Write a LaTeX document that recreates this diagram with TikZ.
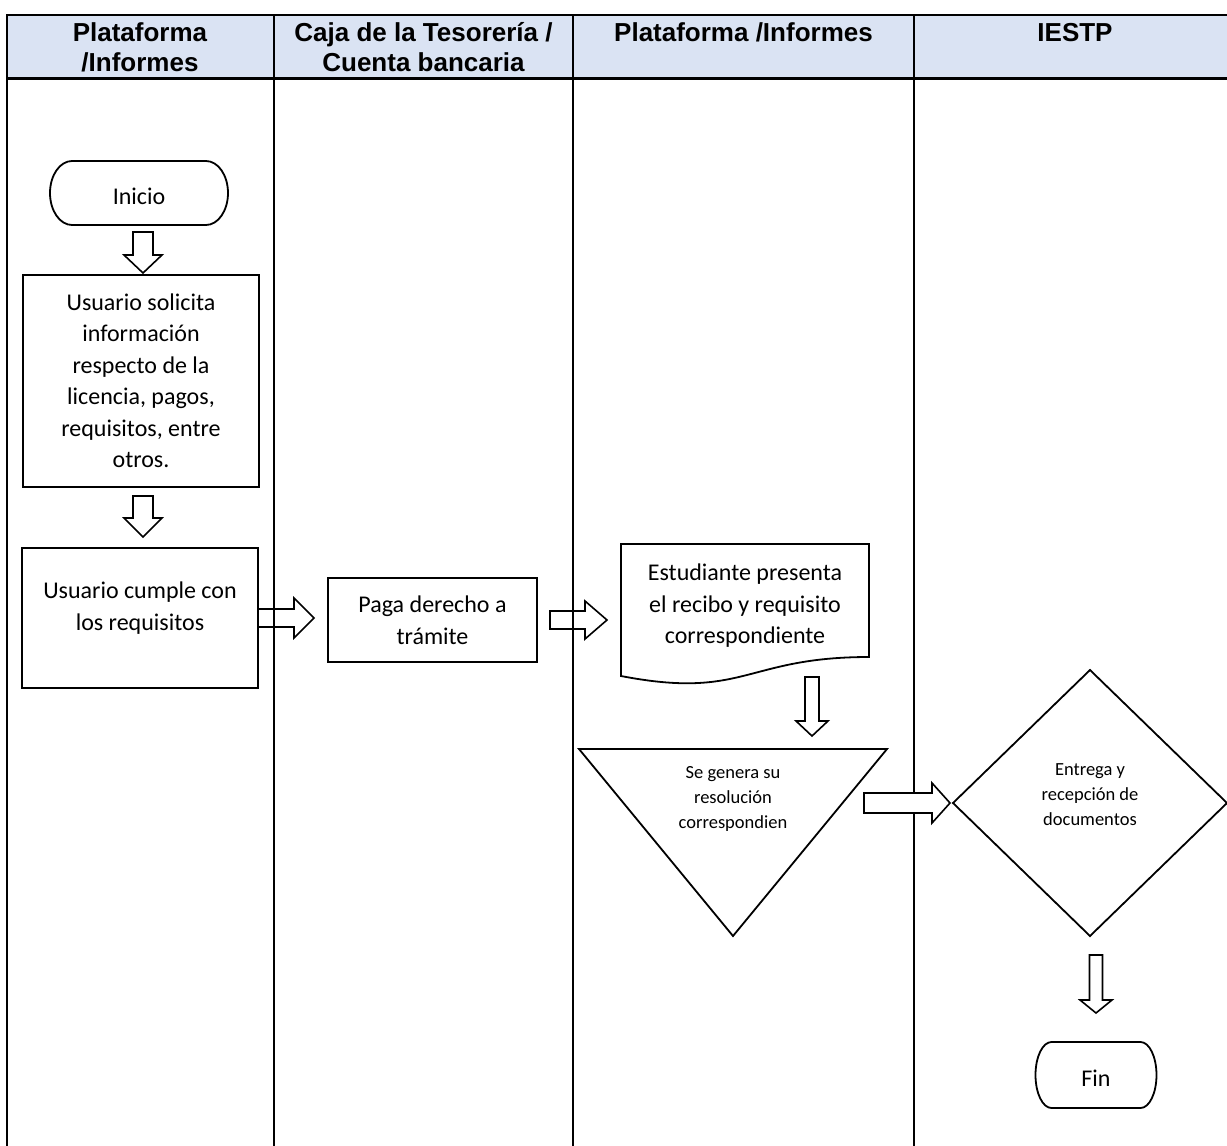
\documentclass[tikz,border=0pt]{standalone}
\usepackage{fontspec}
\setmainfont{Carlito}
\newfontfamily\headfont{Liberation Sans}
\usetikzlibrary{calc,shapes.geometric}
\definecolor{headblue}{HTML}{DAE3F3}

% terminator outline around a node: #1 node, #2 horizontal radius, #3 vertical radius
\newcommand{\termshape}[3]{%
  \draw[outline] ([xshift=#2pt]#1.north west) -- ([xshift=-#2pt]#1.north east)
    arc[start angle=90, end angle=-90, x radius=#2pt, y radius=#3pt]
    -- ([xshift=#2pt]#1.south west)
    arc[start angle=270, end angle=90, x radius=#2pt, y radius=#3pt] -- cycle;}

% hollow block arrow pointing down: #2 tail point, #3 tip point,
% #4 half shaft width, #5 half head width, #6 head length
\newcommand{\blockdown}[6][]{%
  \draw[blockarrow,#1] let \p1=#2, \p2=#3 in
    (\x2-#4pt,\y1) -- (\x2+#4pt,\y1) -- (\x2+#4pt,\y2+#6pt) -- (\x2+#5pt,\y2+#6pt)
    -- (\x2,\y2) -- (\x2-#5pt,\y2+#6pt) -- (\x2-#4pt,\y2+#6pt) -- cycle;}

% hollow block arrow pointing right
\newcommand{\blockright}[6][]{%
  \draw[blockarrow,#1] let \p1=#2, \p2=#3 in
    (\x1,\y2+#4pt) -- (\x2-#6pt,\y2+#4pt) -- (\x2-#6pt,\y2+#5pt) -- (\x2,\y2)
    -- (\x2-#6pt,\y2-#5pt) -- (\x2-#6pt,\y2-#4pt) -- (\x1,\y2-#4pt) -- cycle;}

\begin{document}
\begin{tikzpicture}[x=1pt,y=-1pt,
  lane/.style={line width=1.8pt},
  hdr/.style={font=\headfont\bfseries\fontsize{26}{30}\selectfont, align=center, inner sep=0},
  procbox/.style={draw, line width=1.8pt, outer sep=0, align=center, inner sep=0,
    font=\fontsize{24}{31.5}\selectfont},
  bigtext/.style={align=center, inner sep=0, outer sep=0, font=\fontsize{24}{31.5}\selectfont},
  termtext/.style={bigtext, text height=23pt, text depth=0pt},
  smalltext/.style={align=center, inner sep=0, outer sep=0, font=\fontsize{18.5}{25}\selectfont},
  outline/.style={line width=1.8pt, line join=miter},
  blockarrow/.style={draw, line width=1.6pt, line join=miter}]

\useasboundingbox (0,0) rectangle (1227,1146);
\clip (0,0) rectangle (1227,1146);

% swimlane table
\fill[headblue] (7,15) rectangle (1240,78);
\draw[lane] (7,15) -- (1240,15);
\draw[line width=3pt] (7,78) -- (1240,78);
\foreach \lx in {7,274,573,914} \draw[lane] (\lx,14) -- (\lx,1150);

\node[hdr] (h1) at (140,47.5) {Plataforma\\/Informes};
\node[hdr] (h2) at (423.5,47.5) {Caja de la Tesorería /\\Cuenta bancaria};
\node[hdr] (h3) at (743.5,32.5) {Plataforma /Informes};
\node[hdr] (h4) at (1075,33) {IESTP};

% lane 1
\node[termtext, minimum width=178pt, minimum height=64pt] (inicio) at (139,193) {Inicio};
\termshape{inicio}{22}{32}

\node[procbox, minimum width=236pt, minimum height=212pt] (box1) at (141,381)
  {Usuario solicita\\información\\respecto de la\\licencia, pagos,\\requisitos, entre\\otros.};

\node[procbox, minimum width=236pt, minimum height=140pt] (box2) at (140,618) {};
\node[bigtext] (box2text) at (140,608) {Usuario cumple con\\los requisitos};

% lane 2
\node[procbox, minimum width=209pt, minimum height=84pt] (box3) at (432.5,620)
  {Paga derecho a\\trámite};

% lane 3
\node[bigtext, minimum width=248pt, minimum height=120pt] (doc) at (745,606)
  {Estudiante presenta\\el recibo y requisito\\correspondiente};
\draw[outline] (621,544) -- (869,544) -- (869,657)
  .. controls (745,657) and (745,700) .. (621,676) -- cycle;

\coordinate (mtl) at (579,749);
\coordinate (mtr) at (887,749);
\coordinate (mbot) at (733,936);
\draw[outline] (mtl) -- (mtr) -- (mbot) -- cycle;
\node[smalltext] (merge) at (733,799) {Se genera su\\resolución\\correspondien};

% lane 4
\node[diamond, minimum width=274pt, minimum height=266pt, inner sep=0, outer sep=0] (dia) at (1090,803) {};
\node[smalltext] (diatext) at (1090,795) {Entrega y\\recepción de\\documentos};

\node[termtext, minimum width=121pt, minimum height=66pt] (fin) at (1096,1075) {Fin};
\termshape{fin}{16}{33}

% block arrows
\blockdown{($(inicio.south)+(4,7)$)}{($(box1.north)+(2,-2)$)}{10}{19}{18}
\blockdown{($(box1.south)+(0,9)$)}{($(box2.north)+(3,-11)$)}{10}{19}{19}
\blockright{($(box2.east)+(0,0)$)}{($(box3.west)+(-14,-2)$)}{9}{20}{20}
\blockright{($(box3.east)+(13,0)$)}{($(doc.west)+(-14,14)$)}{9}{19}{22}
\blockdown{($(mtr)+(-75,-72)$)}{($(mtr)+(-75,-13)$)}{7}{16}{15}
\blockright[fill=white]{($(merge)+(131,4)$)}{($(dia.west)+(-3,0)$)}{10}{20}{18}
\blockdown{($(dia.south)+(6,19)$)}{($(fin.north)+(0,-29)$)}{6.5}{16}{13}

\draw[outline] (dia.north) -- (dia.east) -- (dia.south) -- (dia.west) -- cycle;
\end{tikzpicture}
\end{document}
